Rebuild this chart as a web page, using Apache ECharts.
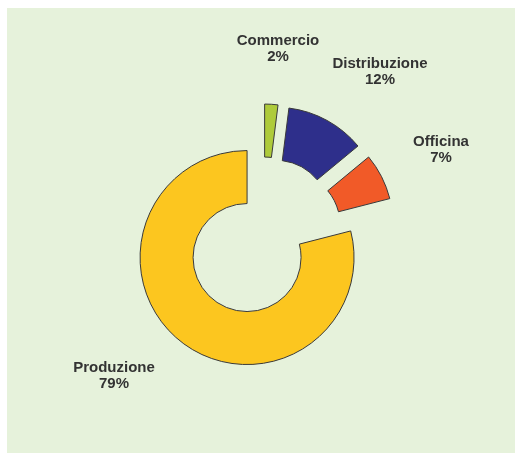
<!DOCTYPE html>
<html>
<head>
<meta charset="utf-8">
<script src="https://cdn.jsdelivr.net/npm/echarts@6/dist/echarts.min.js"></script>
<style>
html,body{margin:0;padding:0;background:#fff;}
#chart{width:515px;height:454px;}
</style>
</head>
<body>
<div id="chart"></div>
<script>
var categories = ['Commercio', 'Distribuzione', 'Officina', 'Produzione'];
var values = [2, 12, 7, 79];
var colors = ['#AECB3A', '#2E2F8B', '#F15A28', '#FCC61F'];
var labelAnchors = [[278, 49], [380, 72], [441, 150], [114, 376]];

var chart = echarts.init(document.getElementById('chart'));
var data = categories.map(function (c, i) {
  return { name: c, value: values[i], selected: true, itemStyle: { color: colors[i] } };
});
var labels = categories.map(function (c, i) {
  return {
    type: 'text', silent: true, z: 10,
    style: {
      text: c + '\n' + values[i] + '%',
      x: labelAnchors[i][0], y: labelAnchors[i][1],
      align: 'center', verticalAlign: 'middle',
      textAlign: 'center', textVerticalAlign: 'middle',
      fontFamily: 'Liberation Sans, Arial, sans-serif',
      fontWeight: 'bold', fontSize: 15, lineHeight: 16,
      fill: '#333333'
    }
  };
});
chart.setOption({
  backgroundColor: '#ffffff',
  animation: false,
  graphic: [{
    type: 'rect', z: -10, silent: true,
    shape: { x: 7, y: 8, width: 508, height: 445 },
    style: { fill: '#E6F2DB' }
  }].concat(labels),
  series: [{
    type: 'pie',
    center: [263, 237],
    radius: [54, 107],
    startAngle: 90,
    clockwise: true,
    selectedMode: 'multiple',
    selectedOffset: 26,
    silent: true,
    itemStyle: { borderColor: '#3a3a3a', borderWidth: 1 },
    select: { itemStyle: { borderColor: '#3a3a3a', borderWidth: 1 } },
    emphasis: { disabled: true },
    label: { show: false },
    labelLine: { show: false },
    data: data
  }]
});
</script>
</body>
</html>
